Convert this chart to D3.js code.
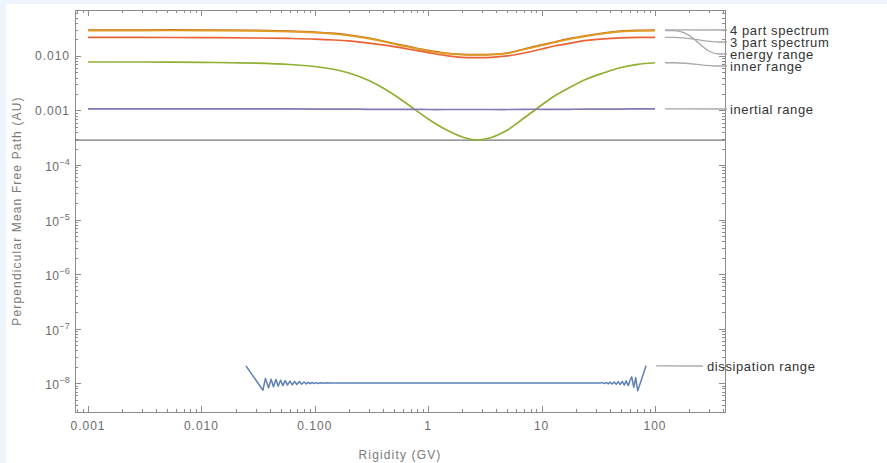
<!DOCTYPE html>
<html>
<head>
    <script src="https://d3js.org/d3.v7.min.js" charset="utf-8"></script>
    <title>Perpendicular Mean Free Path</title>
    <style type="text/css">
        body {
            margin: 0;
            background: #eef4fb;
            font-family: "Liberation Sans", "Helvetica", "Arial", sans-serif;
        }

        .frame line, .frame path {
            stroke: #8c8c8c;
        }

        .tickLabel {
            font-size: 12px;
            fill: #6b6b6b;
            letter-spacing: 1px;
        }

        .axisTitle {
            font-size: 12px;
            fill: #7a7a7a;
            letter-spacing: 1.15px;
        }

        .callout {
            font-size: 13px;
            fill: #333;
            letter-spacing: 0.6px;
        }
    </style>
</head>
<body>

<div id="visContainer"></div>

<script>

var rigidity = [0.001, 0.003, 0.01, 0.03, 0.06, 0.1, 0.15, 0.2, 0.3, 0.4, 0.55, 0.7, 1, 1.4, 2, 2.7, 3.6, 5, 7, 10, 13, 18, 25, 35, 50, 70, 100];

var fourPart  = [0.0299, 0.0299, 0.0299, 0.0295, 0.0286, 0.0274, 0.0258, 0.0242, 0.0213, 0.0188, 0.0162, 0.0146, 0.0126, 0.0113, 0.0107, 0.0106, 0.0107, 0.0113, 0.0134, 0.0159, 0.0180, 0.0209, 0.0237, 0.0263, 0.0286, 0.0295, 0.0299];
var energy    = [0.0292, 0.0292, 0.0292, 0.0288, 0.0279, 0.0267, 0.0252, 0.0236, 0.0208, 0.0184, 0.0158, 0.0143, 0.0123, 0.0111, 0.0105, 0.0104, 0.0105, 0.0111, 0.0131, 0.0155, 0.0176, 0.0204, 0.0231, 0.0257, 0.0279, 0.0288, 0.0292];
var threePart = [0.0218, 0.0218, 0.0217, 0.0213, 0.0209, 0.0204, 0.0196, 0.0188, 0.0172, 0.0159, 0.0143, 0.0131, 0.0115, 0.0102, 0.0094, 0.0093, 0.0094, 0.0100, 0.0113, 0.0134, 0.0152, 0.0172, 0.0192, 0.0206, 0.0215, 0.0219, 0.0219];
var inner     = [0.00773, 0.00773, 0.00763, 0.00735, 0.00696, 0.00639, 0.00563, 0.00486, 0.00354, 0.00258, 0.00169, 0.00118, 0.000697, 0.000456, 0.000326, 0.000287, 0.000319, 0.000438, 0.000726, 0.00126, 0.00184, 0.00269, 0.00377, 0.00486, 0.00613, 0.00702, 0.0075];
var inertial  = [0.00107, 0.00107, 0.00107, 0.00107, 0.00107, 0.00106, 0.00106, 0.00106, 0.00105, 0.00105, 0.00105, 0.00105, 0.00104, 0.00104, 0.00104, 0.00104, 0.00104, 0.00104, 0.00105, 0.00105, 0.00105, 0.00105, 0.00106, 0.00106, 0.00106, 0.00107, 0.00107];

// dissipation range has its own (noisy) sampling
var dissRigidity = [0.0247, 0.0349, 0.0367, 0.0391, 0.0412, 0.0432, 0.0454, 0.0475, 0.0499, 0.0523, 0.0548, 0.0574, 0.0603, 0.0632, 0.0663, 0.0695, 0.0730, 0.0766, 0.0803, 0.0842,
                    0.0874, 0.0910, 0.0948, 0.0987, 0.1028, 0.107, 0.1126, 0.1185, 0.1263, 0.137,
                    1, 10, 32.9, 34.2, 35.6, 37.1, 38.7, 40.3, 41.9, 43.7, 45.5, 47.4, 49.3, 51.4, 53.5, 55.7, 58.0, 60.4,
                    62.3, 64.9, 67.6, 70.4, 83.3];
var dissMfp      = [2.07e-8, 7.4e-9, 1.22e-8, 8.2e-9, 1.18e-8, 8.55e-9, 1.16e-8, 8.8e-9, 1.13e-8, 9.0e-9, 1.11e-8, 9.2e-9, 1.09e-8, 9.25e-9, 1.07e-8, 9.4e-9, 1.065e-8, 9.5e-9, 1.05e-8, 9.6e-9,
                    1.03e-8, 9.75e-9, 1.025e-8, 9.8e-9, 1.02e-8, 9.85e-9, 1.015e-8, 9.9e-9, 1.01e-8, 1.0e-8,
                    1.0e-8, 1.0e-8, 1.0e-8, 1.02e-8, 9.8e-9, 1.03e-8, 9.7e-9, 1.04e-8, 9.6e-9, 1.05e-8, 9.5e-9, 1.065e-8, 9.4e-9, 1.08e-8, 9.2e-9, 1.10e-8, 9.0e-9, 1.14e-8,
                    1.3e-8, 8.4e-9, 1.25e-8, 7.2e-9, 2.07e-8];

var xTickValues = [0.001, 0.01, 0.1, 1, 10, 100];
var xTickLabels = ["0.001", "0.010", "0.100", "1", "10", "100"];
var yTickValues = [0.01, 0.001, 1e-4, 1e-5, 1e-6, 1e-7, 1e-8];
var yTickLabels = ["0.010", "0.001", "10|-4", "10|-5", "10|-6", "10|-7", "10|-8"];

var axisOriginValue = 2.85e-4;

var series = [
    {name: "dissipation range", x: dissRigidity, y: dissMfp,  color: "#5e81b5", labelY: 366, linear: true},
    {name: "4 part spectrum",   x: rigidity,     y: fourPart, color: "#c56e1a", labelY: 30},
    {name: "energy range",      x: rigidity,     y: energy,   color: "#e19c24", labelY: 54},
    {name: "inner range",       x: rigidity,     y: inner,    color: "#8fb032", labelY: 66},
    {name: "3 part spectrum",   x: rigidity,     y: threePart, color: "#eb6235", labelY: 42},
    {name: "inertial range",    x: rigidity,     y: inertial, color: "#8778b3", labelY: 109}
];

var W = 887, H = 463;
var pLeft = 75, pRight = 725, pTop = 10, pBottom = 412;

var x = d3.scaleLog().domain([7.68e-4, 414]).range([pLeft, pRight]);
var y = d3.scaleLog().domain([0.0695, 2.95e-9]).range([pTop, pBottom]);

var svg = d3.select("#visContainer").append("svg")
        .attr("width", W)
        .attr("height", H)
        .style("display", "block");

svg.append("rect").attr("x", 6).attr("y", 4).attr("width", W - 6).attr("height", H - 4).attr("fill", "#fff");

var frame = svg.append("g").classed("frame", true);

// minor tick values for a log axis between two limits
function logTicks(lo, hi) {
    var out = [];
    for (var e = Math.floor(Math.log10(lo)); e <= Math.ceil(Math.log10(hi)); e++) {
        for (var m = 1; m < 10; m++) {
            var v = m * Math.pow(10, e);
            if (v >= lo && v <= hi) out.push({v: v, major: m === 1});
        }
    }
    return out;
}

var xt = logTicks(x.domain()[0], x.domain()[1]);
var yt = logTicks(y.domain()[1], y.domain()[0]);

xt.forEach(function (t) {
    var px = Math.round(x(t.v)) + 0.5;
    var len = t.major ? 6 : 3;
    frame.append("line").attr("x1", px).attr("x2", px).attr("y1", pBottom).attr("y2", pBottom - len);
    frame.append("line").attr("x1", px).attr("x2", px).attr("y1", pTop).attr("y2", pTop + len);
});

yt.forEach(function (t) {
    var py = Math.round(y(t.v)) + 0.5;
    var len = t.major ? 6 : 3;
    frame.append("line").attr("x1", pLeft).attr("x2", pLeft + len).attr("y1", py).attr("y2", py);
    frame.append("line").attr("x1", pRight).attr("x2", pRight - len).attr("y1", py).attr("y2", py);
});

frame.append("rect")
        .attr("x", pLeft + 0.5).attr("y", pTop + 0.5)
        .attr("width", pRight - pLeft).attr("height", pBottom - pTop)
        .attr("fill", "none").attr("stroke", "#8c8c8c");

// horizontal axis line inside the frame
svg.append("line")
        .attr("x1", pLeft).attr("x2", pRight)
        .attr("y1", y(axisOriginValue)).attr("y2", y(axisOriginValue))
        .attr("stroke", "#777").attr("stroke-width", 1.2);

// tick labels
svg.selectAll("text.xlab")
        .data(xTickValues)
        .enter().append("text")
        .attr("class", "tickLabel")
        .attr("text-anchor", "middle")
        .attr("x", function (d) { return x(d); })
        .attr("y", 430)
        .text(function (d, i) { return xTickLabels[i]; });

yTickValues.forEach(function (v, i) {
    var lab = yTickLabels[i];
    var t = svg.append("text")
            .attr("class", "tickLabel")
            .attr("text-anchor", "end")
            .attr("x", 70)
            .attr("y", y(v) + 4.5);
    if (lab.indexOf("|") < 0) {
        t.text(lab);
    } else {
        var parts = lab.split("|");
        t.attr("y", y(v) + 6).style("letter-spacing", "0.3px");
        t.append("tspan").text(parts[0]);
        t.append("tspan").attr("dy", -6).style("font-size", "9px").text("\u2212" + parts[1].replace("-", ""));
    }
});

svg.append("text")
        .attr("class", "axisTitle")
        .attr("text-anchor", "middle")
        .attr("x", (pLeft + pRight) / 2)
        .attr("y", 459)
        .text("Rigidity (GV)");

svg.append("text")
        .attr("class", "axisTitle")
        .attr("text-anchor", "middle")
        .attr("transform", "translate(21," + ((pTop + pBottom) / 2) + ") rotate(-90)")
        .text("Perpendicular Mean Free Path (AU)");

// curves
var plot = svg.append("g");

series.forEach(function (s) {
    var pts = s.x.map(function (d, i) { return [x(d), y(s.y[i])]; });
    var line = d3.line().curve(s.linear ? d3.curveLinear : d3.curveCatmullRom.alpha(0.5));
    plot.append("path")
            .attr("d", line(pts))
            .attr("fill", "none")
            .attr("stroke", s.color)
            .attr("stroke-width", s.linear ? 1.5 : 1.7)
            .attr("stroke-linejoin", "round");

    // callout from the end of the curve to its label
    var last = pts[pts.length - 1];
    var sx = last[0] + 10, sy = last[1];
    var ex, tx;
    if (s.linear) {
        ex = sx + 47;
        tx = ex + 4;
    } else {
        ex = 727;
        tx = 730;
    }
    var ly = s.labelY;
    var p = d3.path();
    p.moveTo(sx, sy);
    if (Math.abs(ly - sy) < 1) {
        p.lineTo(ex, ly);
    } else {
        p.lineTo(sx + 8, sy);
        p.bezierCurveTo(sx + 30, sy, ex - 25, ly, ex - 8, ly);
        p.lineTo(ex, ly);
    }
    svg.append("path")
            .attr("d", p.toString())
            .attr("fill", "none")
            .attr("stroke", "#a9a9a9")
            .attr("stroke-width", 1.3);

    svg.append("text")
            .attr("class", "callout")
            .attr("x", tx)
            .attr("y", ly + 4.5)
            .text(s.name);
});

</script>

</body>
</html>
